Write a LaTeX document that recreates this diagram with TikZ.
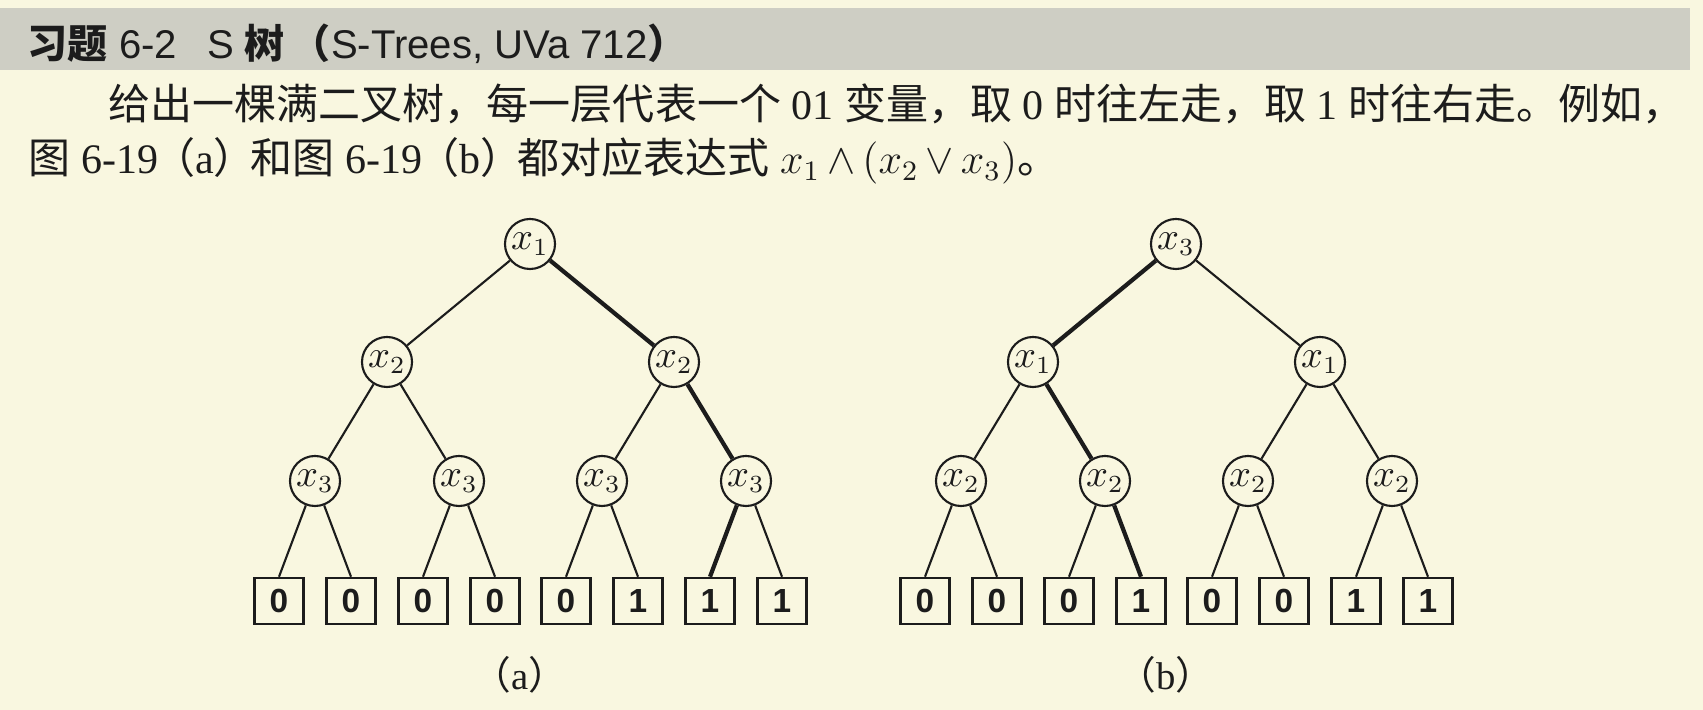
\documentclass[tikz,border=0pt]{standalone}
\usepackage{fontspec}
\setmainfont{Liberation Serif}
\setsansfont{Liberation Sans}
\newfontfamily\cjk{Noto Sans CJK SC}
\definecolor{paper}{RGB}{249,247,224}
\definecolor{band}{RGB}{206,206,196}
\definecolor{ink}{RGB}{28,28,28}
\begin{document}
\begin{tikzpicture}[x=0.01cm,y=-0.01cm,
  vnode/.style={circle, draw=ink, line width=0.6pt, minimum size=0.50cm, inner sep=0pt, text=ink, font=\fontsize{10.5}{12}\selectfont},
  leafbox/.style={rectangle, draw=ink, line width=0.7pt, minimum width=0.49cm, minimum height=0.46cm, inner sep=0pt, text=ink, font=\sffamily\bfseries\fontsize{9.5}{11}\selectfont},
  plainedge/.style={draw=ink, line width=0.6pt},
  hotedge/.style={draw=ink, line width=1.2pt},
  textline/.style={anchor=base west, inner sep=0pt, text=ink},
  captext/.style={inner sep=0pt, text=ink, font=\fontsize{11}{13}\selectfont}]
\fill[paper] (0,0) rectangle (1703,710);
\useasboundingbox (0,0) rectangle (1703,710);
\fill[band] (0,8) rectangle (1690,70);
% title and text
\node[textline, font=\sffamily\fontsize{11.4}{13}\selectfont] (title) at (27,59)
  {{\cjk\bfseries 习题} 6-2\hspace{0.75em}S {\cjk\bfseries 树}\hspace{0.15em}{\cjk\bfseries （}S-Trees, UVa 712{\cjk\bfseries ）}};
\node[textline, font=\fontsize{11.95}{14}\selectfont] (l1) at (108,120)
  {{\cjk 给出一棵满二叉树，每一层代表一个} 01 {\cjk 变量，取} 0 {\cjk 时往左走，取} 1 {\cjk 时往右走。例如，}};
\node[textline, font=\fontsize{11.95}{14}\selectfont] (l2) at (28,174)
  {{\cjk 图} 6-19\hspace{-0.12em}{\cjk （}a{\cjk ）}\hspace{-0.12em}{\cjk 和图} 6-19\hspace{-0.12em}{\cjk （}b{\cjk ）}\hspace{-0.12em}{\cjk 都对应表达式} $\medmuskip=3mu x_1\wedge(x_2\vee x_3)${\cjk 。}};
% tree (a)
\node[vnode] (a0) at (530,244) {$x_1$};
\node[vnode] (a1) at (387,362) {$x_2$};
\node[vnode] (a2) at (674,362) {$x_2$};
\node[vnode] (a3) at (315,481) {$x_3$};
\node[vnode] (a4) at (459,481) {$x_3$};
\node[vnode] (a5) at (602,481) {$x_3$};
\node[vnode] (a6) at (746,481) {$x_3$};
\node[leafbox] (la1) at (279,601) {0};
\node[leafbox] (la2) at (351,601) {0};
\node[leafbox] (la3) at (423,601) {0};
\node[leafbox] (la4) at (495,601) {0};
\node[leafbox] (la5) at (566,601) {0};
\node[leafbox] (la6) at (638,601) {1};
\node[leafbox] (la7) at (710,601) {1};
\node[leafbox] (la8) at (782,601) {1};
\path[plainedge] (a0) -- (a1) (a1) -- (a3) (a1) -- (a4) (a2) -- (a5);
\path[hotedge] (a0) -- (a2) (a2) -- (a6);
\path[plainedge] (a3) -- (la1.north) (a3) -- (la2.north) (a4) -- (la3.north) (a4) -- (la4.north)
  (a5) -- (la5.north) (a5) -- (la6.north) (a6) -- (la8.north);
\path[hotedge] (a6) -- (la7.north);
\node[captext] (capa) at (520,675) {{\cjk （}a{\cjk ）}};
% tree (b)
\node[vnode] (b0) at (1176,244) {$x_3$};
\node[vnode] (b1) at (1033,362) {$x_1$};
\node[vnode] (b2) at (1320,362) {$x_1$};
\node[vnode] (b3) at (961,481) {$x_2$};
\node[vnode] (b4) at (1105,481) {$x_2$};
\node[vnode] (b5) at (1248,481) {$x_2$};
\node[vnode] (b6) at (1392,481) {$x_2$};
\node[leafbox] (lb1) at (925,601) {0};
\node[leafbox] (lb2) at (997,601) {0};
\node[leafbox] (lb3) at (1069,601) {0};
\node[leafbox] (lb4) at (1141,601) {1};
\node[leafbox] (lb5) at (1212,601) {0};
\node[leafbox] (lb6) at (1284,601) {0};
\node[leafbox] (lb7) at (1356,601) {1};
\node[leafbox] (lb8) at (1428,601) {1};
\path[plainedge] (b0) -- (b2) (b1) -- (b3) (b2) -- (b5) (b2) -- (b6);
\path[hotedge] (b0) -- (b1) (b1) -- (b4);
\path[plainedge] (b3) -- (lb1.north) (b3) -- (lb2.north) (b4) -- (lb3.north)
  (b5) -- (lb5.north) (b5) -- (lb6.north) (b6) -- (lb7.north) (b6) -- (lb8.north);
\path[hotedge] (b4) -- (lb4.north);
\node[captext] (capb) at (1166,675) {{\cjk （}b{\cjk ）}};
\end{tikzpicture}
\end{document}
